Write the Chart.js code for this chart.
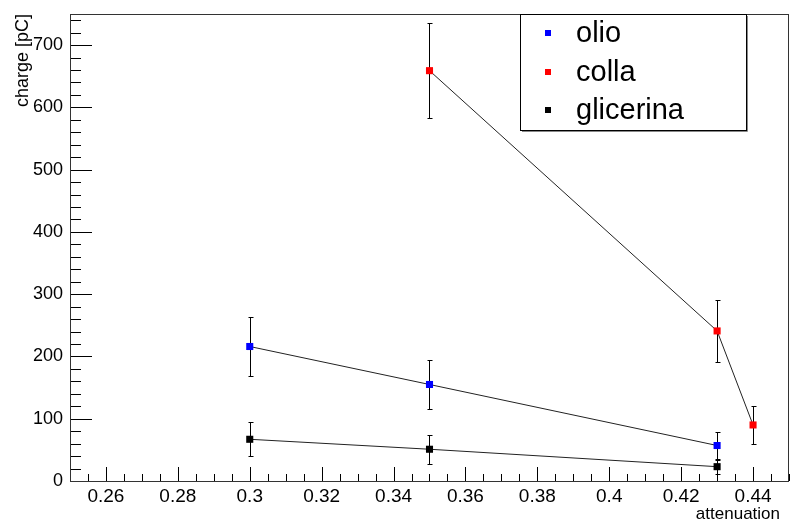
<!DOCTYPE html>
<html>
<head>
<meta charset="utf-8">
<script src="https://cdn.jsdelivr.net/npm/chart.js@4/dist/chart.umd.min.js"></script>
<style>
  html, body { margin: 0; padding: 0; background: #fff; }
  canvas { display: block; }
</style>
</head>
<body>
<canvas id="chargeChart" width="790" height="522"></canvas>
<script>
// values
const olioX = [0.3, 0.35, 0.43];
const olioY = [216, 155, 57];
const olioErr = [48, 40, 22];

const collaX = [0.35, 0.43, 0.44];
const collaY = [659, 241, 90];
const collaErr = [76, 50, 30];

const glicerinaX = [0.3, 0.35, 0.43];
const glicerinaY = [67, 51, 23];
const glicerinaErr = [27, 23, 11];

const seriesNames = ["olio", "colla", "glicerina"];
const seriesColors = ["#0000ff", "#ff0000", "#000000"];

const xTicks = [0.26, 0.28, 0.3, 0.32, 0.34, 0.36, 0.38, 0.4, 0.42, 0.44];
const yTicks = [0, 100, 200, 300, 400, 500, 600, 700];

const fontFamily = "'Liberation Sans', Arial, Helvetica, sans-serif";

function toPoints(xs, ys, errs) {
  return xs.map((x, i) => ({ x: x, y: ys[i], err: errs[i] }));
}

const allData = [
  toPoints(olioX, olioY, olioErr),
  toPoints(collaX, collaY, collaErr),
  toPoints(glicerinaX, glicerinaY, glicerinaErr),
];

// frame, inward ticks (ROOT style), error bars and legend box
const rootStylePlugin = {
  id: "rootStyle",
  beforeDatasetsDraw(chart) {
    const ctx = chart.ctx;
    const area = chart.chartArea;
    const xs = chart.scales.x;
    const ys = chart.scales.y;
    ctx.save();
    ctx.strokeStyle = "#000";
    ctx.lineWidth = 1;

    // y ticks: major every 100, minor every 20
    ctx.beginPath();
    for (let v = 0; v <= ys.max; v += 20) {
      const py = Math.round(ys.getPixelForValue(v)) + 0.5;
      const len = v % 100 === 0 ? 22 : 11;
      ctx.moveTo(area.left, py);
      ctx.lineTo(area.left + len, py);
    }
    // x ticks: major every 0.02, minor every 0.005
    for (let i = 0; i <= 40; i++) {
      const v = xs.min + i * 0.005;
      const px = Math.round(xs.getPixelForValue(v)) + 0.5;
      const isMajor = xTicks.some((t) => Math.abs(t - v) < 1e-6);
      const len = isMajor ? 14 : 7;
      ctx.moveTo(px, area.bottom);
      ctx.lineTo(px, area.bottom - len);
    }
    ctx.stroke();

    // frame
    ctx.strokeStyle = "#333";
    ctx.strokeRect(area.left + 0.5, area.top + 0.5, area.right - area.left - 1, area.bottom - area.top);

    // error bars
    ctx.strokeStyle = "#000";
    ctx.beginPath();
    chart.data.datasets.forEach((ds) => {
      ds.data.forEach((p) => {
        const px = Math.round(xs.getPixelForValue(p.x)) + 0.5;
        const top = Math.round(ys.getPixelForValue(p.y + p.err)) + 0.5;
        const bot = Math.round(ys.getPixelForValue(Math.max(p.y - p.err, 0))) + 0.5;
        ctx.moveTo(px, top);
        ctx.lineTo(px, bot);
        ctx.moveTo(px - 2, top);
        ctx.lineTo(px + 3, top);
        ctx.moveTo(px - 2, bot);
        ctx.lineTo(px + 3, bot);
      });
    });
    ctx.stroke();
    ctx.restore();
  },
  afterDraw(chart) {
    const ctx = chart.ctx;
    const area = chart.chartArea;
    ctx.save();

    // x axis title, right aligned under the axis
    ctx.fillStyle = "#000";
    ctx.font = "17px " + fontFamily;
    ctx.textAlign = "right";
    ctx.textBaseline = "middle";
    ctx.fillText("attenuation", 780, 514);

    // legend box
    const boxL = 520, boxT = area.top, boxR = 746, boxB = 130;
    ctx.fillStyle = "#fff";
    ctx.fillRect(boxL, boxT, boxR - boxL, boxB - boxT);
    ctx.strokeStyle = "#000";
    ctx.lineWidth = 1;
    ctx.strokeRect(boxL + 0.5, boxT + 0.5, boxR - boxL, boxB - boxT);
    ctx.strokeStyle = "#888";
    ctx.beginPath();
    ctx.moveTo(boxL + 2, boxB + 1.5);
    ctx.lineTo(boxR + 1.5, boxB + 1.5);
    ctx.lineTo(boxR + 1.5, boxT + 2);
    ctx.stroke();

    ctx.font = "29px " + fontFamily;
    ctx.textBaseline = "middle";
    ctx.textAlign = "left";
    const rowY = [33, 72, 110];
    seriesNames.forEach((name, i) => {
      ctx.fillStyle = seriesColors[i];
      ctx.fillRect(545, rowY[i] - 3, 6, 6);
      ctx.fillStyle = "#000";
      ctx.fillText(name, 576, rowY[i] + 1);
    });
    ctx.restore();
  },
};

const chargeCtx = document.getElementById("chargeChart").getContext("2d");

const chargeChart = new Chart(chargeCtx, {
  type: "scatter",
  data: {
    datasets: seriesNames.map((name, i) => ({
      label: name,
      data: allData[i],
      showLine: true,
      borderColor: "#222",
      borderWidth: 1,
      pointStyle: "rect",
      pointRadius: 5,
      pointHoverRadius: 5,
      pointBackgroundColor: seriesColors[i],
      pointBorderColor: seriesColors[i],
      pointBorderWidth: 0,
      tension: 0,
    })),
  },
  options: {
    responsive: false,
    animation: false,
    devicePixelRatio: 1,
    // no auto padding for point overflow, plot frame reaches the right edge
    layout: { autoPadding: false, padding: { top: 14, right: 1, left: 0, bottom: 0 } },
    plugins: {
      legend: { display: false },
      tooltip: { enabled: false },
    },
    scales: {
      x: {
        type: "linear",
        min: 0.25,
        max: 0.45,
        grid: { display: false, drawTicks: false },
        border: { display: false },
        afterBuildTicks: (scale) => {
          scale.ticks = xTicks.map((v) => ({ value: v }));
        },
        afterFit: (scale) => {
          scale.height = 41;
          scale.paddingLeft = 0;
          scale.paddingRight = 0;
        },
        ticks: {
          color: "#000",
          padding: 4,
          maxRotation: 0,
          font: { family: fontFamily, size: 19 },
          callback: (value) => String(+Number(value).toFixed(2)),
        },
      },
      y: {
        min: 0,
        max: 750,
        grid: { display: false, drawTicks: false },
        border: { display: false },
        afterBuildTicks: (scale) => {
          scale.ticks = yTicks.map((v) => ({ value: v }));
        },
        afterFit: (scale) => {
          scale.width = 70;
          scale.paddingTop = 0;
          scale.paddingBottom = 0;
        },
        ticks: {
          color: "#000",
          padding: 7,
          font: { family: fontFamily, size: 18 },
        },
        title: {
          display: true,
          text: "charge [pC]",
          align: "end",
          color: "#000",
          padding: { top: 12, bottom: 0 },
          font: { family: fontFamily, size: 18 },
        },
      },
    },
  },
  plugins: [rootStylePlugin],
});
</script>
</body>
</html>
